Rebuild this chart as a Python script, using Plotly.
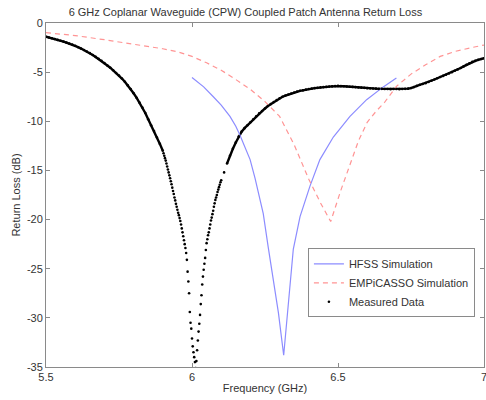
import plotly.graph_objects as go

# ---------------- data ----------------
title_text = "6 GHz Coplanar Waveguide (CPW) Coupled Patch Antenna Return Loss"
x_tick_vals = [5.5, 6, 6.5, 7]
x_tick_text = ["5.5", "6", "6.5", "7"]
y_tick_vals = [0, -5, -10, -15, -20, -25, -30, -35]
y_tick_text = ["0", "-5", "-10", "-15", "-20", "-25", "-30", "-35"]

hfss_freq = [6.000, 6.040, 6.073, 6.100, 6.130, 6.150, 6.164, 6.180, 6.199, 6.216,
             6.244, 6.261, 6.278, 6.296, 6.314, 6.330, 6.347, 6.370, 6.404, 6.438,
             6.484, 6.541, 6.598, 6.655, 6.700]
hfss_db = [-5.55, -6.5, -7.5, -8.35, -9.5, -10.5, -11.4, -12.5, -13.9, -15.8,
           -19.4, -22.8, -26.1, -29.5, -33.8, -28.8, -23.0, -19.7, -16.6, -13.9,
           -11.6, -9.5, -7.8, -6.5, -5.6]

emp_freq = [5.50, 5.60, 5.70, 5.80, 5.90, 5.95, 6.00, 6.05, 6.10, 6.15,
            6.20, 6.25, 6.30, 6.35, 6.40, 6.44, 6.475, 6.51, 6.54, 6.57,
            6.60, 6.63, 6.66, 6.70, 6.75, 6.80, 6.85, 6.90, 6.95, 7.00]
emp_db = [-0.98, -1.28, -1.70, -2.15, -2.62, -2.92, -3.40, -4.05, -4.80, -5.75,
          -6.75, -8.0, -9.5, -12.4, -15.9, -18.3, -20.2, -17.0, -14.4, -12.0,
          -10.1, -9.0, -8.05, -6.45, -5.2, -4.25, -3.4, -2.9, -2.55, -2.24]

meas_freq = [
    5.50, 5.51, 5.52, 5.53, 5.54, 5.55, 5.56, 5.57, 5.58, 5.59,
    5.60, 5.61, 5.62, 5.63, 5.64, 5.65, 5.66, 5.67, 5.68, 5.69,
    5.70, 5.71, 5.72, 5.73, 5.74, 5.75, 5.76, 5.77, 5.78, 5.79,
    5.80, 5.81, 5.82, 5.83, 5.84, 5.85, 5.86, 5.87, 5.88, 5.89,
    5.9000, 5.9025, 5.9050, 5.9075, 5.9100, 5.9125, 5.9150, 5.9175,
    5.9200, 5.9225, 5.9250, 5.9275, 5.9300, 5.9325, 5.9350, 5.9375,
    5.9400, 5.9425, 5.9450, 5.9475, 5.9500, 5.9525, 5.9550, 5.9575,
    5.9600, 5.9625, 5.9650, 5.9675, 5.9700, 5.9725, 5.9750, 5.9775,
    5.9800, 5.9825, 5.9850, 5.9875, 5.9900, 5.9925, 5.9950, 5.9975,
    6.0000, 6.0025, 6.0050, 6.0075, 6.0100, 6.0125, 6.0150, 6.0175,
    6.0200, 6.0225, 6.0250, 6.0275, 6.0300, 6.0325, 6.0350, 6.0375,
    6.0400, 6.0425, 6.0450, 6.0475, 6.0500, 6.0525, 6.0550, 6.0575,
    6.0600, 6.0625, 6.0650, 6.0675, 6.0700, 6.0725, 6.0750, 6.0775,
    6.0800, 6.0825, 6.0850, 6.0875, 6.0900, 6.0925, 6.0950, 6.0975,
    6.1000,
    6.11, 6.12, 6.13, 6.14, 6.15, 6.16, 6.17, 6.18, 6.19,
    6.20, 6.21, 6.22, 6.23, 6.24, 6.25, 6.26, 6.27, 6.28, 6.29,
    6.30, 6.31, 6.32, 6.33, 6.34, 6.35, 6.36, 6.37, 6.38, 6.39,
    6.40, 6.41, 6.42, 6.43, 6.44, 6.45, 6.46, 6.47, 6.48, 6.49,
    6.50, 6.51, 6.52, 6.53, 6.54, 6.55, 6.56, 6.57, 6.58, 6.59,
    6.60, 6.61, 6.62, 6.63, 6.64, 6.65, 6.66, 6.67, 6.68, 6.69,
    6.70, 6.71, 6.72, 6.73, 6.74, 6.75, 6.76, 6.77, 6.78, 6.79,
    6.80, 6.81, 6.82, 6.83, 6.84, 6.85, 6.86, 6.87, 6.88, 6.89,
    6.90, 6.91, 6.92, 6.93, 6.94, 6.95, 6.96, 6.97, 6.98, 6.99,
    7.00]
meas_db = [
    -1.40, -1.47, -1.55, -1.63, -1.72, -1.81, -1.90, -2.00, -2.10, -2.20,
    -2.32, -2.46, -2.60, -2.75, -2.90, -3.06, -3.25, -3.45, -3.65, -3.85,
    -4.08, -4.32, -4.55, -4.80, -5.08, -5.35, -5.65, -5.98, -6.35, -6.72,
    -7.15, -7.60, -8.10, -8.60, -9.15, -9.80, -10.40, -11.00, -11.65, -12.30,
    -13.0, -13.25, -13.5, -13.75, -14.0, -14.3, -14.6, -14.9,
    -15.2, -15.5, -15.8, -16.1, -16.4, -16.75, -17.1, -17.4,
    -17.75, -18.05, -18.4, -18.7, -19.0, -19.3, -19.55, -19.85,
    -20.15, -20.5, -20.9, -21.3, -21.7, -22.1, -22.5, -22.9,
    -23.4, -24.1, -25.3, -26.3, -27.5, -29.4, -30.5, -31.1,
    -32.1, -32.9, -33.5, -34.0, -34.5, -35.1, -34.4, -33.3,
    -32.3, -31.4, -30.6, -29.7, -28.6, -27.7, -26.6, -25.8,
    -25.1, -24.5, -23.9, -23.1, -22.4, -22.0, -21.6, -21.3,
    -20.9, -20.5, -20.1, -19.8, -19.45, -19.1, -18.7, -18.35,
    -18.0, -17.75, -17.5, -17.2, -16.95, -16.7, -16.45, -16.2,
    -16.0,
    -15.2, -14.3, -13.5, -12.8, -12.15, -11.55, -11.05, -10.7, -10.4,
    -10.1, -9.8, -9.5, -9.2, -8.95, -8.7, -8.45, -8.25, -8.05, -7.85,
    -7.65, -7.5, -7.38, -7.27, -7.17, -7.07, -6.98, -6.9, -6.85, -6.78,
    -6.72, -6.68, -6.63, -6.6, -6.55, -6.52, -6.5, -6.47, -6.45, -6.42,
    -6.4, -6.42, -6.43, -6.46, -6.48, -6.5, -6.52, -6.55, -6.58, -6.6,
    -6.63, -6.65, -6.67, -6.68, -6.7, -6.7, -6.72, -6.72, -6.73, -6.72,
    -6.72, -6.73, -6.72, -6.7, -6.68, -6.62, -6.52, -6.4, -6.28, -6.2,
    -6.12, -6.0, -5.88, -5.75, -5.62, -5.5, -5.38, -5.26, -5.14, -5.0,
    -4.86, -4.72, -4.58, -4.42, -4.26, -4.1, -3.96, -3.85, -3.75, -3.66,
    -3.58]

# dense parts of the measured sweep (appear as a solid thick trace)
dense_lo, dense_hi = 5.90, 6.12
line_x, line_y = [], []
for f, d in zip(meas_freq, meas_db):
    if f <= dense_lo or f >= dense_hi:
        line_x.append(f)
        line_y.append(d)
    elif line_x and line_x[-1] is not None:
        line_x.append(None)
        line_y.append(None)

FONT = "Liberation Sans, Arial, Helvetica, sans-serif"

fig = go.Figure()
fig.add_trace(go.Scatter(x=line_x, y=line_y, mode="lines", showlegend=False,
                         line=dict(color="black", width=2.4), hoverinfo="skip"))
fig.add_trace(go.Scatter(x=hfss_freq, y=hfss_db, mode="lines", name="HFSS Simulation",
                         line=dict(color="#8c8cff", width=1.2)))
fig.add_trace(go.Scatter(x=emp_freq, y=emp_db, mode="lines", name="EMPiCASSO Simulation",
                         line=dict(color="#ff9494", width=1.2, dash="5px,4px")))
fig.add_trace(go.Scatter(x=meas_freq, y=meas_db, mode="markers", name="Measured Data",
                         marker=dict(color="black", size=2.6)))

axis_common = dict(showline=True, linecolor="#8a8a8a", linewidth=1, mirror="ticks",
                   ticks="inside", ticklen=4, tickcolor="#8a8a8a", showgrid=False,
                   zeroline=False, ticklabeloverflow="allow",
                   tickfont=dict(family=FONT, size=11, color="#333"))

fig.update_layout(
    width=486, height=400,
    margin=dict(l=46, r=2, t=23, b=33),
    paper_bgcolor="white", plot_bgcolor="white",
    font=dict(family=FONT, size=11, color="#333"),
    title=dict(text=title_text, x=0.505, xanchor="center", y=0.97, yanchor="middle",
               font=dict(family=FONT, size=11, color="#333")),
    xaxis=dict(range=[5.5, 7], tickvals=x_tick_vals, ticktext=x_tick_text,
               title=dict(text="Frequency (GHz)", standoff=2,
                          font=dict(family=FONT, size=11, color="#333")),
               automargin=False, **axis_common),
    yaxis=dict(range=[-35, 0], tickvals=y_tick_vals, ticktext=y_tick_text,
               title=dict(text="Return Loss (dB)", standoff=4,
                          font=dict(family=FONT, size=11, color="#333")),
               automargin=False, **axis_common),
    legend=dict(x=0.598, y=0.345, xanchor="left", yanchor="top",
                bordercolor="#8a8a8a", borderwidth=1, bgcolor="white",
                font=dict(family=FONT, size=11, color="#333"),
                itemwidth=30, tracegroupgap=0),
)

fig.write_html("out.html",
               config={"displayModeBar": False},
               post_script="document.body.style.margin='0';"
                           "document.body.style.padding='0';"
                           "document.body.style.overflow='hidden';")
